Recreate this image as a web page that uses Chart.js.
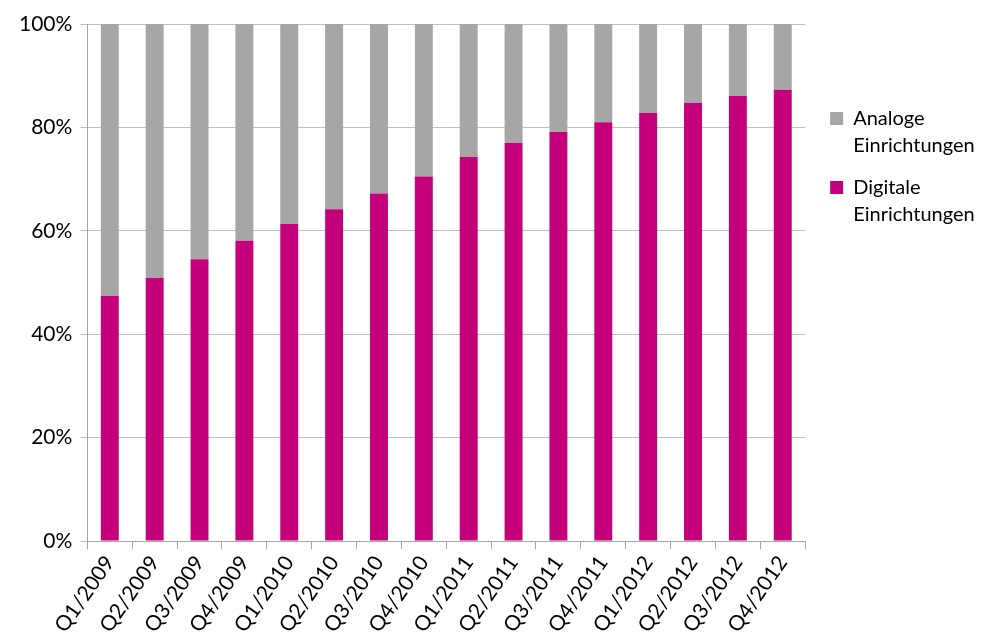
<!DOCTYPE html>
<html>
<head>
<meta charset="utf-8">
<script src="https://cdn.jsdelivr.net/npm/chart.js@4.4.1/dist/chart.umd.min.js"></script>
<style>
  html, body { margin: 0; padding: 0; background: #fff; }
  #wrap { width: 982px; height: 641px; }
</style>
</head>
<body>
<div id="wrap"><canvas id="shareChart" width="982" height="641"></canvas></div>
<script>
const quarters = [
  "Q1/2009", "Q2/2009", "Q3/2009", "Q4/2009",
  "Q1/2010", "Q2/2010", "Q3/2010", "Q4/2010",
  "Q1/2011", "Q2/2011", "Q3/2011", "Q4/2011",
  "Q1/2012", "Q2/2012", "Q3/2012", "Q4/2012"
];

const digitalShare = [47.4, 50.9, 54.5, 58.1, 61.3, 64.2, 67.2, 70.5, 74.3, 77.0, 79.1, 81.0, 82.8, 84.7, 86.1, 87.3];
const analogShare = digitalShare.map(v => +(100 - v).toFixed(1));

const digitalLabel = ["Digitale", "Einrichtungen"];
const analogLabel = ["Analoge", "Einrichtungen"];

const FONT = "Lato, 'Liberation Sans', sans-serif";

const ctx = document.getElementById("shareChart").getContext("2d");

new Chart(ctx, {
  type: "bar",
  data: {
    labels: quarters,
    datasets: [
      {
        label: digitalLabel,
        data: digitalShare,
        backgroundColor: "#C4007A",
        barPercentage: 0.4,
        categoryPercentage: 1
      },
      {
        label: analogLabel,
        data: analogShare,
        backgroundColor: "#A6A6A6",
        barPercentage: 0.4,
        categoryPercentage: 1
      }
    ]
  },
  options: {
    responsive: false,
    animation: false,
    layout: {
      padding: { left: 11, right: 6, top: 24, bottom: 2 }
    },
    plugins: {
      tooltip: { enabled: false },
      legend: {
        position: "right",
        align: "start",
        reverse: true,
        title: {
          display: true,
          text: "",
          padding: { top: 55, bottom: 0 }
        },
        labels: {
          boxWidth: 13,
          boxHeight: 13,
          padding: 15,
          color: "#000",
          font: { family: FONT, size: 20, lineHeight: 1.35 }
        }
      }
    },
    scales: {
      x: {
        stacked: true,
        grid: {
          offset: true,
          drawOnChartArea: false,
          tickLength: 8,
          color: "#A6A6A6"
        },
        border: { color: "#A6A6A6" },
        ticks: {
          minRotation: 55,
          maxRotation: 55,
          color: "#000",
          font: { family: FONT, size: 21 },
          padding: 2
        }
      },
      y: {
        stacked: true,
        min: 0,
        max: 100,
        grid: {
          color: "#BFBFBF",
          tickLength: 7
        },
        border: { color: "#A6A6A6" },
        ticks: {
          stepSize: 20,
          color: "#000",
          padding: 8,
          font: { family: FONT, size: 21 },
          callback: value => value + "%"
        }
      },
      // empty right-hand axis, only keeps a gap between plot and legend
      gap: {
        position: "right",
        grid: { display: false },
        border: { display: false },
        ticks: { display: false },
        afterFit: axis => { axis.width = 10; }
      }
    }
  }
});
</script>
</body>
</html>
